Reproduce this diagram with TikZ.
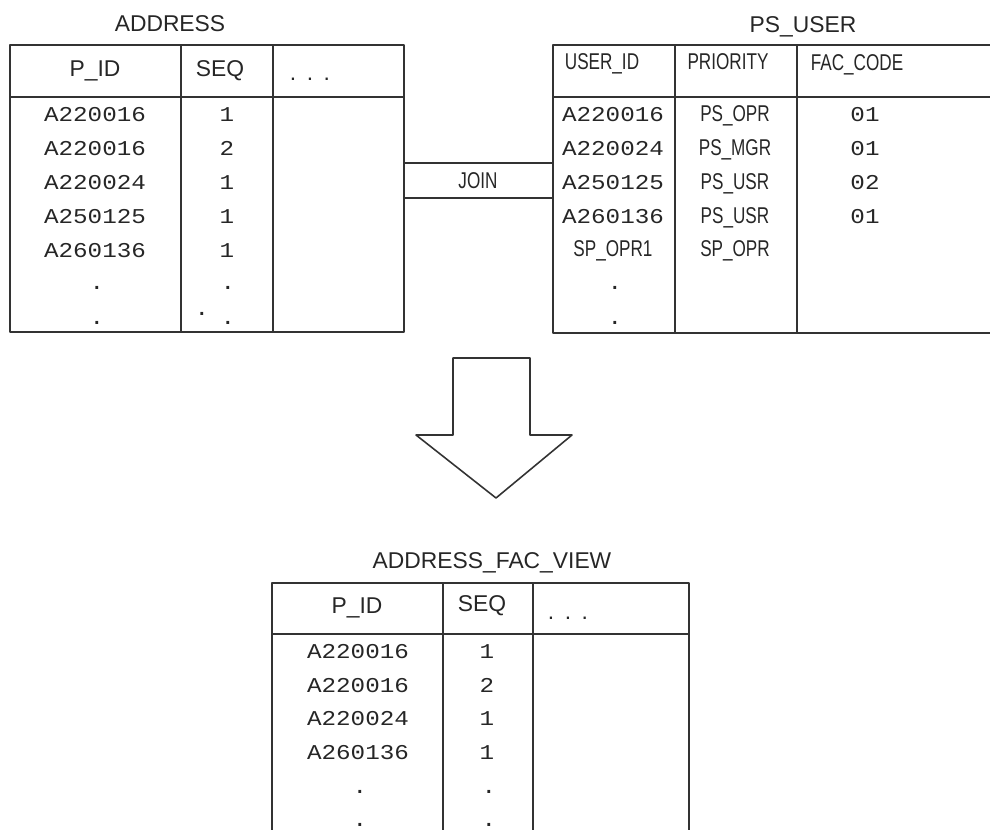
\documentclass[tikz,border=0pt]{standalone}
\usepackage{fontspec}
\setmainfont{Liberation Sans}
\newfontfamily\narrowfont[FakeStretch=0.75]{Liberation Sans}
\newfontfamily\datafont[FakeStretch=1.15]{Liberation Mono}
\newcommand{\moredots}{.\hspace{6pt}.\hspace{6pt}.}
\tikzset{
  tbl/.style={line width=0.9pt, draw=black!80},
  head/.style={inner sep=0pt, anchor=base, font=\fontsize{13}{15}\selectfont},
  nhead/.style={inner sep=0pt, anchor=base, font=\fontsize{13}{15}\selectfont\narrowfont},
  data/.style={inner sep=0pt, anchor=base, font=\fontsize{12}{14}\selectfont\datafont}
}
\begin{document}
\begin{tikzpicture}[x=0.02cm, y=-0.02cm, line join=round, line cap=round, every node/.style={text=black!85}]
  \useasboundingbox (0,0) rectangle (990,830);
  \clip (0,0) rectangle (990,830);
  % ADDRESS table
  \draw[tbl] (10,45) rectangle (404,332);
  \draw[tbl] (10,97) -- (404,97) (181,45) -- (181,332) (273,45) -- (273,332);
  \node[head] (addr) at (170,32) {ADDRESS};
  \node[head] (addr-pid) at (95,77) {P\_ID};
  \node[head] (addr-seq) at (220,77) {SEQ};
  \node[head] (addr-more) at (310,81) {\moredots};
  \foreach \id/\sq [count=\i] in {A220016/1, A220016/2, A220024/1, A250125/1, A260136/1} {
    \node[data] (addr-id\i) at (95,{88+34*\i}) {\id};
    \node[data] (addr-sq\i) at (227,{88+34*\i}) {\sq};
  }
  \foreach \y [count=\i from 6] in {290,325} {
    \node[data] (addr-id\i) at (97,\y) {.};
    \node[data] (addr-sq\i) at (228,\y) {.};
  }
  \node[data] (addr-spot) at (202,316) {.};
  % PS_USER table
  \draw[tbl] (995,45) -- (553,45) -- (553,333) -- (995,333);
  \draw[tbl] (553,97) -- (995,97) (675,45) -- (675,333) (797,45) -- (797,333);
  \node[head] (user) at (803,33) {PS\_USER};
  \node[nhead] (user-uid) at (602,70) {USER\_ID};
  \node[nhead] (user-pri) at (728,70) {PRIORITY};
  \node[nhead] (user-fac) at (857,71) {FAC\_CODE};
  \foreach \id/\pr/\fc [count=\i] in {A220016/PS\_OPR/01, A220024/PS\_MGR/01, A250125/PS\_USR/02, A260136/PS\_USR/01} {
    \node[data] (user-id\i) at (613,{88+34*\i}) {\id};
    \node[nhead] (user-pr\i) at (735,{88+34*\i}) {\pr};
    \node[data] (user-fc\i) at (865,{88+34*\i}) {\fc};
  }
  \node[nhead] (user-id5) at (613,257) {SP\_OPR1};
  \node[nhead] (user-pr5) at (735,257) {SP\_OPR};
  \node[data] (user-id6) at (615,290) {.};
  \node[data] (user-id7) at (615,325) {.};
  % join between the tables
  \coordinate (join-a) at (404,163);
  \coordinate (join-b) at (553,163);
  \coordinate (join-c) at (404,198);
  \coordinate (join-d) at (553,198);
  \draw[tbl] (join-a) -- (join-b) (join-c) -- (join-d);
  \node[nhead] (join) at (478,189) {JOIN};
  % big arrow
  \draw[tbl] (453,358) -- (530,358) -- (530,435) -- (572,435) -- (496,498) -- (416,435) -- (453,435) -- cycle;
  % ADDRESS_FAC_VIEW table
  \draw[tbl] (272,835) -- (272,583) -- (689,583) -- (689,835);
  \draw[tbl] (272,634) -- (689,634) (443,583) -- (443,835) (533,583) -- (533,835);
  \node[head] (view) at (492,568) {ADDRESS\_FAC\_VIEW};
  \node[head] (view-pid) at (357,613) {P\_ID};
  \node[head] (view-seq) at (482,611) {SEQ};
  \node[head] (view-more) at (568,620) {\moredots};
  \foreach \id/\sq [count=\i] in {A220016/1, A220016/2, A220024/1, A260136/1} {
    \node[data] (view-id\i) at (358,{625+33.5*\i}) {\id};
    \node[data] (view-sq\i) at (487,{625+33.5*\i}) {\sq};
  }
  \foreach \y [count=\i from 5] in {793,826} {
    \node[data] (view-id\i) at (360,\y) {.};
    \node[data] (view-sq\i) at (489,\y) {.};
  }
\end{tikzpicture}
\end{document}
